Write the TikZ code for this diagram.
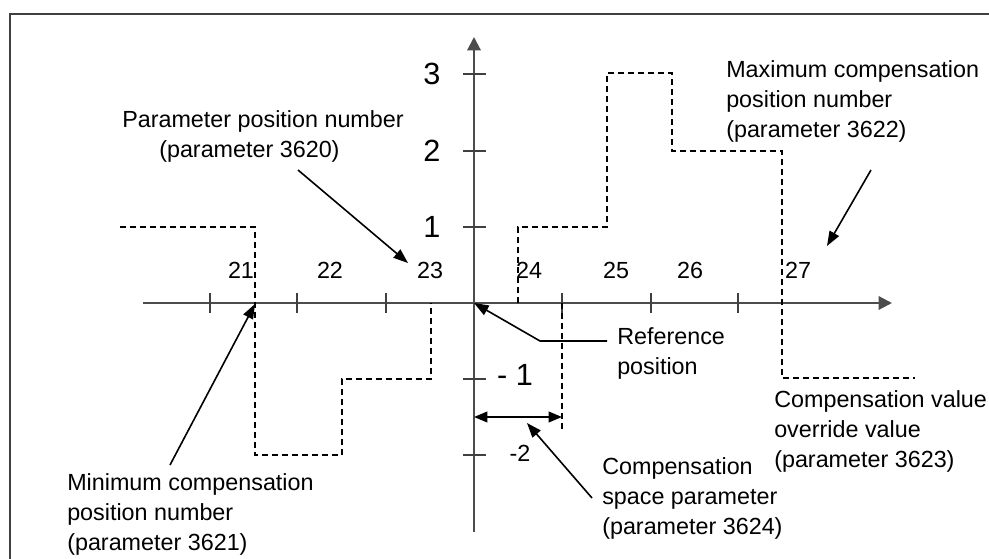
\documentclass[tikz,border=0pt]{standalone}
\usepackage{fontspec}
\setmainfont{Liberation Sans}
\usetikzlibrary{arrows.meta}
\begin{document}
\begin{tikzpicture}[x=0.75pt,y=-0.75pt,
  axis/.style={line width=1.6pt, draw=black!70, -{Triangle[length=10pt,width=10pt]}},
  tickmark/.style={line width=1.1pt, draw=black!75},
  stepline/.style={line width=1.1pt, dash pattern=on 4.5pt off 3pt},
  lead/.style={line width=1.2pt, -{Triangle[length=11pt,width=8pt]}},
  span/.style={line width=1.2pt, {Triangle[length=10pt,width=8pt]}-{Triangle[length=10pt,width=8pt]}},
  lbl/.style={font=\fontsize{17.5}{22.5}\selectfont, inner sep=0pt, align=left, anchor=north west},
  num/.style={font=\fontsize{17.5}{20}\selectfont, inner sep=0pt},
  bignum/.style={font=\fontsize{23}{27}\selectfont, inner sep=0pt},
]
\useasboundingbox (0,0) rectangle (989,559);
\fill[white] (0,0) rectangle (989,559);
% frame
\draw[line width=1.5pt, black!75] (10,559) -- (10,14) -- (989,14);

% axes
\coordinate (O) at (474,303);
\coordinate (xs) at (143,303);
\coordinate (xe) at (892,303);
\coordinate (ys) at (474,532);
\coordinate (ye) at (474,37);
\draw[axis] (xs) -- (xe);
\draw[axis] (ys) -- (ye);

% ticks
\foreach \x in {210,297,386,562,651,738} \draw[tickmark] (\x,293) -- (\x,313);
\foreach \y in {74,151,227,379,455} \draw[tickmark] (463,\y) -- (486,\y);

% x labels
\node[num] (n21) at (241,270) {21};
\node[num] (n22) at (330,270) {22};
\node[num] (n23) at (430,270) {23};
\node[num] (n24) at (529,270) {24};
\node[num] (n25) at (616,270) {25};
\node[num] (n26) at (690,270) {26};
\node[num] (n27) at (798,270) {27};

% y labels
\node[bignum] (y3) at (432,74) {3};
\node[bignum] (y2) at (432,151) {2};
\node[bignum] (y1) at (432,227) {1};
\node[bignum] (ym1) at (515,375) {- 1};
\node[num] (ym2) at (520,453) {-2};

% dashed step curve
\draw[stepline] (120,227) -- (255,227) -- (255,455) -- (342,455) -- (342,379) -- (431,379) -- (431,303);
\draw[stepline] (518,303) -- (518,227) -- (607,227) -- (607,73) -- (672,73) -- (672,151) -- (782,151) -- (782,378) -- (915,378);
\coordinate (cs0) at (562,303);
\coordinate (cs1) at (562,432);
\draw[stepline] (cs0) -- (cs1);

% span arrow
\coordinate (sa) at (474,417);
\coordinate (sb) at (562,417);
\draw[span] (sa) -- (sb);

% labels
\node[lbl] (ppn) at (122,110) {Parameter position number\\\hspace*{27.75pt}(parameter 3620)};
\node[lbl] (maxc) at (726,60) {Maximum compensation\\position number\\(parameter 3622)};
\node[lbl] (minc) at (67,473) {Minimum compensation\\position number\\(parameter 3621)};
\node[lbl] (refp) at (617,327) {Reference\\position};
\node[lbl] (csp) at (602,457) {Compensation\\space parameter\\(parameter 3624)};
\node[lbl] (ovr) at (774,390) {Compensation value\\override value\\(parameter 3623)};

% leaders
\coordinate (ppnT) at (298,170);
\coordinate (ppnH) at (408,263);
\draw[lead] (ppnT) -- (ppnH);

\coordinate (maxT) at (871,170);
\coordinate (maxH) at (827,246);
\draw[lead] (maxT) -- (maxH);

\coordinate (minT) at (170,465);
\coordinate (minH) at (255,304);
\draw[lead] (minT) -- (minH);

\coordinate (refT) at (607,341);
\coordinate (refK) at (540,341);
\draw[lead] (refT) -- (refK) -- (O);

\coordinate (cspT) at (592,498);
\coordinate (cspH) at (527,423);
\draw[lead] (cspT) -- (cspH);
\end{tikzpicture}
\end{document}
